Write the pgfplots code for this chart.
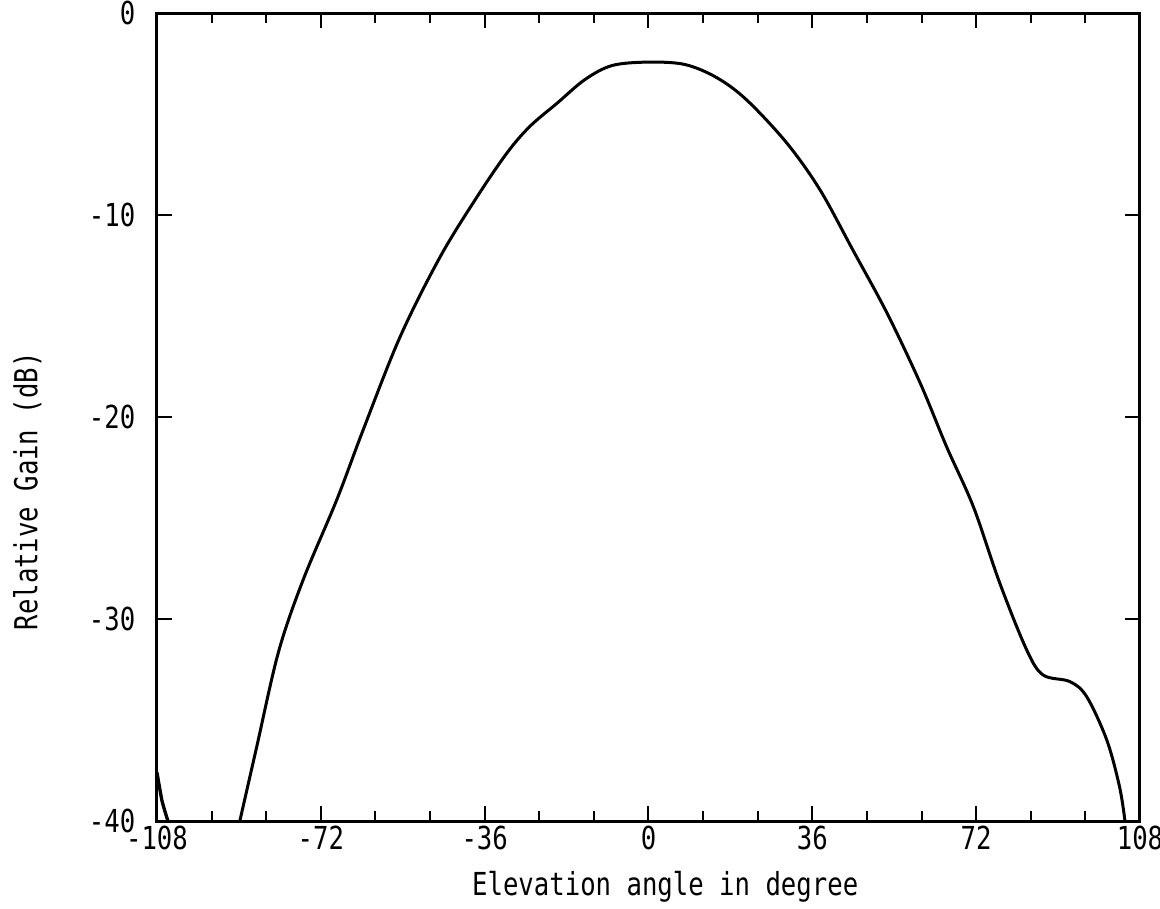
\documentclass[border=0pt]{standalone}
\usepackage{fontspec}
\setmainfont{DejaVu Sans Mono}[FakeStretch=0.81]
\usepackage{pgfplots}
\pgfplotsset{compat=1.18}
\begin{document}
\begin{tikzpicture}
\begin{axis}[name=ax, scale only axis, width=294.9pt, height=242.4pt,
  xmin=-108, xmax=108, ymin=-40, ymax=0,
  xtick={-108,-72,-36,0,36,72,108}, xticklabels={-108,-72,-36,0,36,72,108},
  ytick={-40,-30,-20,-10,0}, yticklabels={-40,-30,-20,-10,0},
  minor xtick={-96,-84,-60,-48,-24,-12,12,24,48,60,84,96},
  tick style={black, line width=0.6pt}, major tick length=4.5pt, minor tick length=3pt,
  axis line style={line width=0.9pt},
  ticklabel style={font=\fontsize{9.5}{11}\selectfont},
  label style={font=\fontsize{9.5}{11}\selectfont},
  xlabel={Elevation angle in degree}, ylabel={Relative Gain (dB)},
  xlabel style={at={(axis description cs:0.517,-0.082)}, anchor=center},
  ylabel style={at={(axis description cs:-0.132,0.408)}, anchor=center},
  yticklabel style={xshift=-3pt},
  xticklabel style={yshift=2pt},
  clip=false]
\addplot[black, line width=1pt, smooth, tension=0.4] coordinates {
(-108,-37.6) (-106.9,-39.0) (-105.6,-40)
};
\addplot[black, line width=0.9pt, smooth, tension=0.55] coordinates {
(-89.8,-40) (-86.1,-36.34) (-81.3,-31.63) (-75.9,-28.07) (-68.5,-24.1) (-62.7,-20.64)
(-54.6,-16.04) (-45.8,-12.08) (-37.7,-9.11) (-31,-6.9) (-26,-5.6) (-20,-4.45) (-14,-3.3)
(-8,-2.6) (0,-2.43) (8,-2.55) (15,-3.2) (21.6,-4.31) (30.4,-6.44) (37.7,-8.76)
(44.9,-11.73) (52.4,-14.85) (59.7,-18.32) (65.5,-21.47) (71.4,-24.45) (77.2,-28.23)
(83.1,-31.53) (86.7,-32.77) (92.6,-33.1) (96.3,-33.85) (100.7,-35.99) (103.5,-38.3)
(104.7,-40)
};
\end{axis}
\pgfresetboundingbox
\path ([shift={(-47.1pt,-26.4pt)}]ax.south west) rectangle ([shift={(6pt,3.9pt)}]ax.north east);
\end{tikzpicture}
\end{document}
